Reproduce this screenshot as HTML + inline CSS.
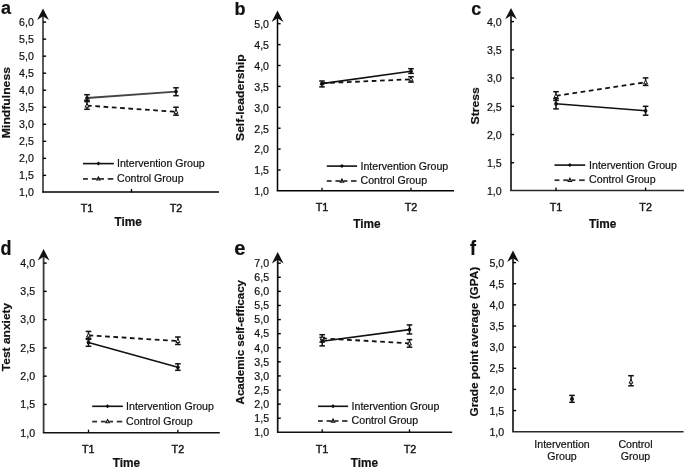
<!DOCTYPE html>
<html><head><meta charset="utf-8"><title>Figure</title>
<style>
html,body{margin:0;padding:0;background:#fff;}
body{width:685px;height:468px;overflow:hidden;}
svg{display:block;filter:grayscale(1) blur(0.35px);}
text{font-family:"Liberation Sans", sans-serif;fill:#111;stroke:#111;stroke-width:0.2px;}
</style></head><body>
<svg width="685" height="468" viewBox="0 0 685 468">
<rect width="685" height="468" fill="#fff"/>
<line x1="43" y1="13.3" x2="43" y2="192.4" stroke="#4a4a4a" stroke-width="1.8"/>
<path d="M43 8.60 L48.90 20.00 L43 16.30 L37.10 20.00 Z" fill="#111"/>
<line x1="42.25" y1="192" x2="219" y2="192" stroke="#000" stroke-width="1.6"/>
<text x="33.8" y="196.20" text-anchor="end" font-size="10.6">1,0</text>
<line x1="43" y1="175.37" x2="46.1" y2="175.37" stroke="#000" stroke-width="1.4"/>
<text x="33.8" y="179.17" text-anchor="end" font-size="10.6">1,5</text>
<line x1="43" y1="158.34" x2="46.1" y2="158.34" stroke="#000" stroke-width="1.4"/>
<text x="33.8" y="162.14" text-anchor="end" font-size="10.6">2,0</text>
<line x1="43" y1="141.31" x2="46.1" y2="141.31" stroke="#000" stroke-width="1.4"/>
<text x="33.8" y="145.11" text-anchor="end" font-size="10.6">2,5</text>
<line x1="43" y1="124.28" x2="46.1" y2="124.28" stroke="#000" stroke-width="1.4"/>
<text x="33.8" y="128.08" text-anchor="end" font-size="10.6">3,0</text>
<line x1="43" y1="107.25" x2="46.1" y2="107.25" stroke="#000" stroke-width="1.4"/>
<text x="33.8" y="111.05" text-anchor="end" font-size="10.6">3,5</text>
<line x1="43" y1="90.22" x2="46.1" y2="90.22" stroke="#000" stroke-width="1.4"/>
<text x="33.8" y="94.02" text-anchor="end" font-size="10.6">4,0</text>
<line x1="43" y1="73.19" x2="46.1" y2="73.19" stroke="#000" stroke-width="1.4"/>
<text x="33.8" y="76.99" text-anchor="end" font-size="10.6">4,5</text>
<line x1="43" y1="56.16" x2="46.1" y2="56.16" stroke="#000" stroke-width="1.4"/>
<text x="33.8" y="59.96" text-anchor="end" font-size="10.6">5,0</text>
<line x1="43" y1="39.13" x2="46.1" y2="39.13" stroke="#000" stroke-width="1.4"/>
<text x="33.8" y="42.93" text-anchor="end" font-size="10.6">5,5</text>
<line x1="43" y1="22.10" x2="46.1" y2="22.10" stroke="#000" stroke-width="1.4"/>
<text x="33.8" y="25.90" text-anchor="end" font-size="10.6">6,0</text>
<line x1="131.5" y1="192.4" x2="131.5" y2="189" stroke="#000" stroke-width="1.3"/>
<text x="87" y="212.3" text-anchor="middle" font-size="10.8" style="stroke-width:0.4px">T1</text>
<text x="176" y="212.3" text-anchor="middle" font-size="10.8" style="stroke-width:0.4px">T2</text>
<text transform="translate(128.2,225.9) scale(1,1.16)" text-anchor="middle" font-size="11.8" font-weight="bold">Time</text>
<text transform="translate(9.9,102.6) rotate(-90) scale(1,0.93)" text-anchor="middle" font-size="12.2" font-weight="bold">Mindfulness</text>
<text transform="translate(1,14.3) scale(1,1.06)" font-size="18" font-weight="bold">a</text>
<path d="M87 98 L176 91.6" fill="none" stroke="#444" stroke-width="1.9"/>
<path d="M87 105.6 L176 111.8" fill="none" stroke="#111" stroke-width="1.8" stroke-dasharray="4.7 3.6"/>
<line x1="87" y1="94.7" x2="87" y2="101.6" stroke="#111" stroke-width="1.5"/>
<line x1="84.2" y1="94.7" x2="89.8" y2="94.7" stroke="#111" stroke-width="1.5"/>
<line x1="84.2" y1="101.6" x2="89.8" y2="101.6" stroke="#111" stroke-width="1.5"/>
<line x1="87" y1="100.2" x2="87" y2="109.3" stroke="#111" stroke-width="1.5"/>
<line x1="84.2" y1="100.2" x2="89.8" y2="100.2" stroke="#111" stroke-width="1.5"/>
<line x1="84.2" y1="109.3" x2="89.8" y2="109.3" stroke="#111" stroke-width="1.5"/>
<line x1="176" y1="87.8" x2="176" y2="95.7" stroke="#111" stroke-width="1.5"/>
<line x1="173.2" y1="87.8" x2="178.8" y2="87.8" stroke="#111" stroke-width="1.5"/>
<line x1="173.2" y1="95.7" x2="178.8" y2="95.7" stroke="#111" stroke-width="1.5"/>
<line x1="176" y1="107.2" x2="176" y2="115.2" stroke="#111" stroke-width="1.5"/>
<line x1="173.2" y1="107.2" x2="178.8" y2="107.2" stroke="#111" stroke-width="1.5"/>
<line x1="173.2" y1="115.2" x2="178.8" y2="115.2" stroke="#111" stroke-width="1.5"/>
<path d="M87 103.55 L88.95 107.14 L85.05 107.14 Z" fill="#fff" stroke="#111" stroke-width="1.0"/>
<path d="M176 109.75 L177.95 113.34 L174.05 113.34 Z" fill="#fff" stroke="#111" stroke-width="1.0"/>
<circle cx="87" cy="98" r="1.85" fill="#111"/>
<circle cx="176" cy="91.6" r="1.85" fill="#111"/>
<line x1="83" y1="163.6" x2="113.9" y2="163.6" stroke="#111" stroke-width="1.6"/>
<path d="M96.35 163.6 L98.45 161.60 L100.55 163.6 L98.45 165.59 Z" fill="#111"/>
<line x1="83.00" y1="178.9" x2="87.91" y2="178.9" stroke="#333" stroke-width="1.8"/>
<line x1="91.81" y1="178.9" x2="96.60" y2="178.9" stroke="#333" stroke-width="1.8"/>
<line x1="100.15" y1="178.9" x2="104.01" y2="178.9" stroke="#333" stroke-width="1.8"/>
<line x1="107.72" y1="178.9" x2="113.30" y2="178.9" stroke="#333" stroke-width="1.8"/>
<path d="M98.45 176.90 L100.16 180.05 L96.74 180.05 Z" fill="#fff" stroke="#111" stroke-width="1.1"/>
<text x="117" y="167.10" font-size="10.6">Intervention Group</text>
<text x="117" y="182.10" font-size="10.6">Control Group</text>
<line x1="277.5" y1="15.3" x2="277.5" y2="190.9" stroke="#000" stroke-width="1.5"/>
<path d="M277.5 10.60 L283.40 22.00 L277.5 18.30 L271.60 22.00 Z" fill="#111"/>
<line x1="276.75" y1="190.8" x2="454" y2="190.8" stroke="#000" stroke-width="1.6"/>
<text x="269.0" y="195.20" text-anchor="end" font-size="10.6">1,0</text>
<line x1="277.5" y1="170.00" x2="280.6" y2="170.00" stroke="#000" stroke-width="1.4"/>
<text x="269.0" y="174.30" text-anchor="end" font-size="10.6">1,5</text>
<line x1="277.5" y1="149.10" x2="280.6" y2="149.10" stroke="#000" stroke-width="1.4"/>
<text x="269.0" y="153.40" text-anchor="end" font-size="10.6">2,0</text>
<line x1="277.5" y1="128.20" x2="280.6" y2="128.20" stroke="#000" stroke-width="1.4"/>
<text x="269.0" y="132.50" text-anchor="end" font-size="10.6">2,5</text>
<line x1="277.5" y1="107.30" x2="280.6" y2="107.30" stroke="#000" stroke-width="1.4"/>
<text x="269.0" y="111.60" text-anchor="end" font-size="10.6">3,0</text>
<line x1="277.5" y1="86.40" x2="280.6" y2="86.40" stroke="#000" stroke-width="1.4"/>
<text x="269.0" y="90.70" text-anchor="end" font-size="10.6">3,5</text>
<line x1="277.5" y1="65.50" x2="280.6" y2="65.50" stroke="#000" stroke-width="1.4"/>
<text x="269.0" y="69.80" text-anchor="end" font-size="10.6">4,0</text>
<line x1="277.5" y1="44.60" x2="280.6" y2="44.60" stroke="#000" stroke-width="1.4"/>
<text x="269.0" y="48.90" text-anchor="end" font-size="10.6">4,5</text>
<line x1="277.5" y1="23.70" x2="280.6" y2="23.70" stroke="#000" stroke-width="1.4"/>
<text x="269.0" y="28.00" text-anchor="end" font-size="10.6">5,0</text>
<line x1="322" y1="190.9" x2="322" y2="187.8" stroke="#000" stroke-width="1.3"/>
<line x1="411" y1="190.9" x2="411" y2="187.8" stroke="#000" stroke-width="1.3"/>
<text x="322" y="210.8" text-anchor="middle" font-size="10.8" style="stroke-width:0.4px">T1</text>
<text x="411" y="210.8" text-anchor="middle" font-size="10.8" style="stroke-width:0.4px">T2</text>
<text transform="translate(367,227.7) scale(1,1.16)" text-anchor="middle" font-size="11.8" font-weight="bold">Time</text>
<text transform="translate(243.9,97.6) rotate(-90) scale(1,0.93)" text-anchor="middle" font-size="12.1" font-weight="bold">Self-leadership</text>
<text transform="translate(234.4,14.6) scale(1,1.05)" font-size="18" font-weight="bold">b</text>
<path d="M322 83.6 L411 71.2" fill="none" stroke="#111" stroke-width="1.6"/>
<path d="M322 83.2 L411 79.3" fill="none" stroke="#111" stroke-width="1.8" stroke-dasharray="4.7 3.6"/>
<line x1="322" y1="81" x2="322" y2="86.9" stroke="#111" stroke-width="1.5"/>
<line x1="319.2" y1="81" x2="324.8" y2="81" stroke="#111" stroke-width="1.5"/>
<line x1="319.2" y1="86.9" x2="324.8" y2="86.9" stroke="#111" stroke-width="1.5"/>
<line x1="411" y1="68.7" x2="411" y2="73.4" stroke="#111" stroke-width="1.5"/>
<line x1="408.2" y1="68.7" x2="413.8" y2="68.7" stroke="#111" stroke-width="1.5"/>
<line x1="408.2" y1="73.4" x2="413.8" y2="73.4" stroke="#111" stroke-width="1.5"/>
<line x1="411" y1="76.8" x2="411" y2="82.1" stroke="#111" stroke-width="1.5"/>
<line x1="408.2" y1="76.8" x2="413.8" y2="76.8" stroke="#111" stroke-width="1.5"/>
<line x1="408.2" y1="82.1" x2="413.8" y2="82.1" stroke="#111" stroke-width="1.5"/>
<path d="M322 81.15 L323.95 84.74 L320.05 84.74 Z" fill="#fff" stroke="#111" stroke-width="1.0"/>
<path d="M411 77.25 L412.95 80.84 L409.05 80.84 Z" fill="#fff" stroke="#111" stroke-width="1.0"/>
<circle cx="322" cy="83.6" r="1.85" fill="#111"/>
<circle cx="411" cy="71.2" r="1.85" fill="#111"/>
<line x1="326.8" y1="166.1" x2="357.1" y2="166.1" stroke="#111" stroke-width="1.6"/>
<path d="M339.85 166.1 L341.95 164.10 L344.05 166.1 L341.95 168.09 Z" fill="#111"/>
<line x1="326.80" y1="181" x2="331.62" y2="181" stroke="#333" stroke-width="1.8"/>
<line x1="335.44" y1="181" x2="340.13" y2="181" stroke="#333" stroke-width="1.8"/>
<line x1="343.62" y1="181" x2="347.40" y2="181" stroke="#333" stroke-width="1.8"/>
<line x1="351.04" y1="181" x2="356.50" y2="181" stroke="#333" stroke-width="1.8"/>
<path d="M341.95 179.00 L343.66 182.15 L340.24 182.15 Z" fill="#fff" stroke="#111" stroke-width="1.1"/>
<text x="360.5" y="169.60" font-size="10.6">Intervention Group</text>
<text x="360.5" y="184.20" font-size="10.6">Control Group</text>
<line x1="511" y1="12.6" x2="511" y2="191.0" stroke="#2a2a2a" stroke-width="1.8"/>
<path d="M511 7.90 L516.90 19.30 L511 15.60 L505.10 19.30 Z" fill="#111"/>
<line x1="510.25" y1="190.5" x2="684" y2="190.5" stroke="#2a2a2a" stroke-width="1.6"/>
<text x="501.7" y="195.20" text-anchor="end" font-size="10.6">1,0</text>
<line x1="511" y1="162.77" x2="514.1" y2="162.77" stroke="#000" stroke-width="1.4"/>
<text x="501.7" y="166.97" text-anchor="end" font-size="10.6">1,5</text>
<line x1="511" y1="134.53" x2="514.1" y2="134.53" stroke="#000" stroke-width="1.4"/>
<text x="501.7" y="138.73" text-anchor="end" font-size="10.6">2,0</text>
<line x1="511" y1="106.30" x2="514.1" y2="106.30" stroke="#000" stroke-width="1.4"/>
<text x="501.7" y="110.50" text-anchor="end" font-size="10.6">2,5</text>
<line x1="511" y1="78.07" x2="514.1" y2="78.07" stroke="#000" stroke-width="1.4"/>
<text x="501.7" y="82.27" text-anchor="end" font-size="10.6">3,0</text>
<line x1="511" y1="49.83" x2="514.1" y2="49.83" stroke="#000" stroke-width="1.4"/>
<text x="501.7" y="54.03" text-anchor="end" font-size="10.6">3,5</text>
<line x1="511" y1="21.60" x2="514.1" y2="21.60" stroke="#000" stroke-width="1.4"/>
<text x="501.7" y="25.80" text-anchor="end" font-size="10.6">4,0</text>
<line x1="556" y1="191.0" x2="556" y2="187.5" stroke="#000" stroke-width="1.3"/>
<line x1="645.6" y1="191.0" x2="645.6" y2="187.5" stroke="#000" stroke-width="1.3"/>
<text x="556" y="210.8" text-anchor="middle" font-size="10.8" style="stroke-width:0.4px">T1</text>
<text x="645.6" y="210.8" text-anchor="middle" font-size="10.8" style="stroke-width:0.4px">T2</text>
<text transform="translate(602.6,227.7) scale(1,1.16)" text-anchor="middle" font-size="11.8" font-weight="bold">Time</text>
<text transform="translate(478.8,105.8) rotate(-90) scale(1,0.93)" text-anchor="middle" font-size="12.2" font-weight="bold">Stress</text>
<text transform="translate(471.2,14.6) scale(1,1.05)" font-size="18" font-weight="bold">c</text>
<path d="M556 103.8 L645.6 110.8" fill="none" stroke="#111" stroke-width="1.6"/>
<path d="M556 95.9 L645.6 82.3" fill="none" stroke="#111" stroke-width="1.8" stroke-dasharray="4.7 3.6"/>
<line x1="556" y1="91.7" x2="556" y2="100.4" stroke="#111" stroke-width="1.5"/>
<line x1="553.2" y1="91.7" x2="558.8" y2="91.7" stroke="#111" stroke-width="1.5"/>
<line x1="553.2" y1="100.4" x2="558.8" y2="100.4" stroke="#111" stroke-width="1.5"/>
<line x1="556" y1="98.6" x2="556" y2="108.9" stroke="#111" stroke-width="1.5"/>
<line x1="553.2" y1="98.6" x2="558.8" y2="98.6" stroke="#111" stroke-width="1.5"/>
<line x1="553.2" y1="108.9" x2="558.8" y2="108.9" stroke="#111" stroke-width="1.5"/>
<line x1="645.6" y1="77.9" x2="645.6" y2="85.4" stroke="#111" stroke-width="1.5"/>
<line x1="642.8" y1="77.9" x2="648.4" y2="77.9" stroke="#111" stroke-width="1.5"/>
<line x1="642.8" y1="85.4" x2="648.4" y2="85.4" stroke="#111" stroke-width="1.5"/>
<line x1="645.6" y1="106.3" x2="645.6" y2="115.2" stroke="#111" stroke-width="1.5"/>
<line x1="642.8" y1="106.3" x2="648.4" y2="106.3" stroke="#111" stroke-width="1.5"/>
<line x1="642.8" y1="115.2" x2="648.4" y2="115.2" stroke="#111" stroke-width="1.5"/>
<path d="M556 93.85 L557.95 97.44 L554.05 97.44 Z" fill="#fff" stroke="#111" stroke-width="1.0"/>
<path d="M645.6 80.25 L647.55 83.84 L643.65 83.84 Z" fill="#fff" stroke="#111" stroke-width="1.0"/>
<circle cx="556" cy="103.8" r="1.85" fill="#111"/>
<circle cx="645.6" cy="110.8" r="1.85" fill="#111"/>
<line x1="554.5" y1="165.1" x2="585.3" y2="165.1" stroke="#111" stroke-width="1.6"/>
<path d="M567.80 165.1 L569.90 163.10 L572.00 165.1 L569.90 167.09 Z" fill="#111"/>
<line x1="554.50" y1="180.2" x2="559.40" y2="180.2" stroke="#333" stroke-width="1.8"/>
<line x1="563.28" y1="180.2" x2="568.05" y2="180.2" stroke="#333" stroke-width="1.8"/>
<line x1="571.59" y1="180.2" x2="575.44" y2="180.2" stroke="#333" stroke-width="1.8"/>
<line x1="579.14" y1="180.2" x2="584.70" y2="180.2" stroke="#333" stroke-width="1.8"/>
<path d="M569.9 178.20 L571.61 181.35 L568.19 181.35 Z" fill="#fff" stroke="#111" stroke-width="1.1"/>
<text x="589.1" y="168.60" font-size="10.6">Intervention Group</text>
<text x="589.1" y="183.40" font-size="10.6">Control Group</text>
<line x1="43.6" y1="253.8" x2="43.6" y2="432.7" stroke="#3a3a3a" stroke-width="1.8"/>
<path d="M43.6 249.10 L49.50 260.50 L43.6 256.80 L37.70 260.50 Z" fill="#111"/>
<line x1="42.85" y1="432.7" x2="219.8" y2="432.7" stroke="#111" stroke-width="1.6"/>
<text x="35.1" y="436.50" text-anchor="end" font-size="10.6">1,0</text>
<line x1="43.6" y1="404.43" x2="46.7" y2="404.43" stroke="#000" stroke-width="1.4"/>
<text x="35.1" y="408.23" text-anchor="end" font-size="10.6">1,5</text>
<line x1="43.6" y1="376.17" x2="46.7" y2="376.17" stroke="#000" stroke-width="1.4"/>
<text x="35.1" y="379.97" text-anchor="end" font-size="10.6">2,0</text>
<line x1="43.6" y1="347.90" x2="46.7" y2="347.90" stroke="#000" stroke-width="1.4"/>
<text x="35.1" y="351.70" text-anchor="end" font-size="10.6">2,5</text>
<line x1="43.6" y1="319.63" x2="46.7" y2="319.63" stroke="#000" stroke-width="1.4"/>
<text x="35.1" y="323.43" text-anchor="end" font-size="10.6">3,0</text>
<line x1="43.6" y1="291.37" x2="46.7" y2="291.37" stroke="#000" stroke-width="1.4"/>
<text x="35.1" y="295.17" text-anchor="end" font-size="10.6">3,5</text>
<line x1="43.6" y1="263.10" x2="46.7" y2="263.10" stroke="#000" stroke-width="1.4"/>
<text x="35.1" y="266.90" text-anchor="end" font-size="10.6">4,0</text>
<line x1="88.5" y1="432.7" x2="88.5" y2="429.7" stroke="#000" stroke-width="1.3"/>
<line x1="177.9" y1="432.7" x2="177.9" y2="429.7" stroke="#000" stroke-width="1.3"/>
<text x="88.3" y="453.4" text-anchor="middle" font-size="10.8" style="stroke-width:0.4px">T1</text>
<text x="177.9" y="453.4" text-anchor="middle" font-size="10.8" style="stroke-width:0.4px">T2</text>
<text transform="translate(126.5,467.3) scale(1,1.16)" text-anchor="middle" font-size="11.8" font-weight="bold">Time</text>
<text transform="translate(9.6,337) rotate(-90) scale(1,0.93)" text-anchor="middle" font-size="12.0" font-weight="bold">Test anxiety</text>
<text transform="translate(0.5,255.1) scale(1,1.12)" font-size="18" font-weight="bold">d</text>
<path d="M88.5 342.4 L177.9 367.3" fill="none" stroke="#111" stroke-width="1.6"/>
<path d="M88.5 335.4 L177.9 341" fill="none" stroke="#111" stroke-width="1.8" stroke-dasharray="4.7 3.6"/>
<line x1="88.5" y1="331.4" x2="88.5" y2="339.4" stroke="#111" stroke-width="1.5"/>
<line x1="85.7" y1="331.4" x2="91.3" y2="331.4" stroke="#111" stroke-width="1.5"/>
<line x1="85.7" y1="339.4" x2="91.3" y2="339.4" stroke="#111" stroke-width="1.5"/>
<line x1="88.5" y1="338.4" x2="88.5" y2="346.3" stroke="#111" stroke-width="1.5"/>
<line x1="85.7" y1="338.4" x2="91.3" y2="338.4" stroke="#111" stroke-width="1.5"/>
<line x1="85.7" y1="346.3" x2="91.3" y2="346.3" stroke="#111" stroke-width="1.5"/>
<line x1="177.9" y1="337" x2="177.9" y2="344.5" stroke="#111" stroke-width="1.5"/>
<line x1="175.1" y1="337" x2="180.7" y2="337" stroke="#111" stroke-width="1.5"/>
<line x1="175.1" y1="344.5" x2="180.7" y2="344.5" stroke="#111" stroke-width="1.5"/>
<line x1="177.9" y1="363.8" x2="177.9" y2="370.3" stroke="#111" stroke-width="1.5"/>
<line x1="175.1" y1="363.8" x2="180.7" y2="363.8" stroke="#111" stroke-width="1.5"/>
<line x1="175.1" y1="370.3" x2="180.7" y2="370.3" stroke="#111" stroke-width="1.5"/>
<path d="M88.5 333.35 L90.45 336.94 L86.55 336.94 Z" fill="#fff" stroke="#111" stroke-width="1.0"/>
<path d="M177.9 338.95 L179.85 342.54 L175.95 342.54 Z" fill="#fff" stroke="#111" stroke-width="1.0"/>
<circle cx="88.5" cy="342.4" r="1.85" fill="#111"/>
<circle cx="177.9" cy="367.3" r="1.85" fill="#111"/>
<line x1="92.2" y1="406.3" x2="122.9" y2="406.3" stroke="#111" stroke-width="1.6"/>
<path d="M105.45 406.3 L107.55 404.31 L109.65 406.3 L107.55 408.30 Z" fill="#111"/>
<line x1="92.20" y1="421.6" x2="97.08" y2="421.6" stroke="#333" stroke-width="1.8"/>
<line x1="100.95" y1="421.6" x2="105.71" y2="421.6" stroke="#333" stroke-width="1.8"/>
<line x1="109.24" y1="421.6" x2="113.08" y2="421.6" stroke="#333" stroke-width="1.8"/>
<line x1="116.76" y1="421.6" x2="122.30" y2="421.6" stroke="#333" stroke-width="1.8"/>
<path d="M107.55 419.60 L109.26 422.75 L105.84 422.75 Z" fill="#fff" stroke="#111" stroke-width="1.1"/>
<text x="126.1" y="409.80" font-size="10.6">Intervention Group</text>
<text x="126.1" y="424.80" font-size="10.6">Control Group</text>
<line x1="277.7" y1="256.8" x2="277.7" y2="432.3" stroke="#111" stroke-width="1.7"/>
<path d="M277.7 252.10 L283.60 263.50 L277.7 259.80 L271.80 263.50 Z" fill="#111"/>
<line x1="276.95" y1="432.3" x2="452.2" y2="432.3" stroke="#111" stroke-width="1.6"/>
<text x="269.1" y="436.10" text-anchor="end" font-size="10.6">1,0</text>
<line x1="277.7" y1="418.21" x2="280.8" y2="418.21" stroke="#000" stroke-width="1.4"/>
<text x="269.1" y="422.01" text-anchor="end" font-size="10.6">1,5</text>
<line x1="277.7" y1="404.12" x2="280.8" y2="404.12" stroke="#000" stroke-width="1.4"/>
<text x="269.1" y="407.92" text-anchor="end" font-size="10.6">2,0</text>
<line x1="277.7" y1="390.02" x2="280.8" y2="390.02" stroke="#000" stroke-width="1.4"/>
<text x="269.1" y="393.82" text-anchor="end" font-size="10.6">2,5</text>
<line x1="277.7" y1="375.93" x2="280.8" y2="375.93" stroke="#000" stroke-width="1.4"/>
<text x="269.1" y="379.73" text-anchor="end" font-size="10.6">3,0</text>
<line x1="277.7" y1="361.84" x2="280.8" y2="361.84" stroke="#000" stroke-width="1.4"/>
<text x="269.1" y="365.64" text-anchor="end" font-size="10.6">3,5</text>
<line x1="277.7" y1="347.75" x2="280.8" y2="347.75" stroke="#000" stroke-width="1.4"/>
<text x="269.1" y="351.55" text-anchor="end" font-size="10.6">4,0</text>
<line x1="277.7" y1="333.66" x2="280.8" y2="333.66" stroke="#000" stroke-width="1.4"/>
<text x="269.1" y="337.46" text-anchor="end" font-size="10.6">4,5</text>
<line x1="277.7" y1="319.57" x2="280.8" y2="319.57" stroke="#000" stroke-width="1.4"/>
<text x="269.1" y="323.37" text-anchor="end" font-size="10.6">5,0</text>
<line x1="277.7" y1="305.48" x2="280.8" y2="305.48" stroke="#000" stroke-width="1.4"/>
<text x="269.1" y="309.28" text-anchor="end" font-size="10.6">5,5</text>
<line x1="277.7" y1="291.38" x2="280.8" y2="291.38" stroke="#000" stroke-width="1.4"/>
<text x="269.1" y="295.18" text-anchor="end" font-size="10.6">6,0</text>
<line x1="277.7" y1="277.29" x2="280.8" y2="277.29" stroke="#000" stroke-width="1.4"/>
<text x="269.1" y="281.09" text-anchor="end" font-size="10.6">6,5</text>
<line x1="277.7" y1="263.20" x2="280.8" y2="263.20" stroke="#000" stroke-width="1.4"/>
<text x="269.1" y="267.00" text-anchor="end" font-size="10.6">7,0</text>
<line x1="322.2" y1="432.3" x2="322.2" y2="429.3" stroke="#000" stroke-width="1.3"/>
<line x1="409.5" y1="432.3" x2="409.5" y2="429.3" stroke="#000" stroke-width="1.3"/>
<text x="322" y="453.4" text-anchor="middle" font-size="10.8" style="stroke-width:0.4px">T1</text>
<text x="410" y="453.4" text-anchor="middle" font-size="10.8" style="stroke-width:0.4px">T2</text>
<text transform="translate(364.3,467.3) scale(1,1.16)" text-anchor="middle" font-size="11.8" font-weight="bold">Time</text>
<text transform="translate(244.1,342.2) rotate(-90) scale(1,0.93)" text-anchor="middle" font-size="11.55" font-weight="bold">Academic self-efficacy</text>
<text transform="translate(234.3,255.1) scale(1,1.0)" font-size="20.2" font-weight="bold">e</text>
<path d="M322.2 341.2 L409.5 329.6" fill="none" stroke="#111" stroke-width="1.6"/>
<path d="M322.2 338.3 L409.5 343.4" fill="none" stroke="#111" stroke-width="1.8" stroke-dasharray="4.7 3.6"/>
<line x1="322.2" y1="334.7" x2="322.2" y2="342" stroke="#111" stroke-width="1.5"/>
<line x1="319.4" y1="334.7" x2="325.0" y2="334.7" stroke="#111" stroke-width="1.5"/>
<line x1="319.4" y1="342" x2="325.0" y2="342" stroke="#111" stroke-width="1.5"/>
<line x1="322.2" y1="337.4" x2="322.2" y2="345.9" stroke="#111" stroke-width="1.5"/>
<line x1="319.4" y1="337.4" x2="325.0" y2="337.4" stroke="#111" stroke-width="1.5"/>
<line x1="319.4" y1="345.9" x2="325.0" y2="345.9" stroke="#111" stroke-width="1.5"/>
<line x1="409.5" y1="324.9" x2="409.5" y2="334" stroke="#111" stroke-width="1.5"/>
<line x1="406.7" y1="324.9" x2="412.3" y2="324.9" stroke="#111" stroke-width="1.5"/>
<line x1="406.7" y1="334" x2="412.3" y2="334" stroke="#111" stroke-width="1.5"/>
<line x1="409.5" y1="339.6" x2="409.5" y2="347.2" stroke="#111" stroke-width="1.5"/>
<line x1="406.7" y1="339.6" x2="412.3" y2="339.6" stroke="#111" stroke-width="1.5"/>
<line x1="406.7" y1="347.2" x2="412.3" y2="347.2" stroke="#111" stroke-width="1.5"/>
<path d="M322.2 336.25 L324.15 339.84 L320.25 339.84 Z" fill="#fff" stroke="#111" stroke-width="1.0"/>
<path d="M409.5 341.35 L411.45 344.94 L407.55 344.94 Z" fill="#fff" stroke="#111" stroke-width="1.0"/>
<circle cx="322.2" cy="341.2" r="1.85" fill="#111"/>
<circle cx="409.5" cy="329.6" r="1.85" fill="#111"/>
<line x1="318" y1="406.3" x2="348.1" y2="406.3" stroke="#111" stroke-width="1.6"/>
<path d="M330.95 406.3 L333.05 404.31 L335.15 406.3 L333.05 408.30 Z" fill="#111"/>
<line x1="318.00" y1="421" x2="322.79" y2="421" stroke="#333" stroke-width="1.8"/>
<line x1="326.58" y1="421" x2="331.24" y2="421" stroke="#333" stroke-width="1.8"/>
<line x1="334.71" y1="421" x2="338.47" y2="421" stroke="#333" stroke-width="1.8"/>
<line x1="342.08" y1="421" x2="347.50" y2="421" stroke="#333" stroke-width="1.8"/>
<path d="M333.05 419.00 L334.76 422.15 L331.34 422.15 Z" fill="#fff" stroke="#111" stroke-width="1.1"/>
<text x="351.6" y="409.80" font-size="10.6">Intervention Group</text>
<text x="351.6" y="424.20" font-size="10.6">Control Group</text>
<line x1="513.0" y1="255.2" x2="513.0" y2="431.7" stroke="#2a2a2a" stroke-width="1.8"/>
<path d="M513.0 250.50 L518.90 261.90 L513.0 258.20 L507.10 261.90 Z" fill="#111"/>
<line x1="512.25" y1="431.7" x2="683.6" y2="431.7" stroke="#2a2a2a" stroke-width="1.6"/>
<text x="504.2" y="435.80" text-anchor="end" font-size="10.6">1,0</text>
<line x1="513.0" y1="410.56" x2="516.1" y2="410.56" stroke="#000" stroke-width="1.4"/>
<text x="504.2" y="414.66" text-anchor="end" font-size="10.6">1,5</text>
<line x1="513.0" y1="389.43" x2="516.1" y2="389.43" stroke="#000" stroke-width="1.4"/>
<text x="504.2" y="393.53" text-anchor="end" font-size="10.6">2,0</text>
<line x1="513.0" y1="368.29" x2="516.1" y2="368.29" stroke="#000" stroke-width="1.4"/>
<text x="504.2" y="372.39" text-anchor="end" font-size="10.6">2,5</text>
<line x1="513.0" y1="347.15" x2="516.1" y2="347.15" stroke="#000" stroke-width="1.4"/>
<text x="504.2" y="351.25" text-anchor="end" font-size="10.6">3,0</text>
<line x1="513.0" y1="326.01" x2="516.1" y2="326.01" stroke="#000" stroke-width="1.4"/>
<text x="504.2" y="330.11" text-anchor="end" font-size="10.6">3,5</text>
<line x1="513.0" y1="304.88" x2="516.1" y2="304.88" stroke="#000" stroke-width="1.4"/>
<text x="504.2" y="308.98" text-anchor="end" font-size="10.6">4,0</text>
<line x1="513.0" y1="283.74" x2="516.1" y2="283.74" stroke="#000" stroke-width="1.4"/>
<text x="504.2" y="287.84" text-anchor="end" font-size="10.6">4,5</text>
<line x1="513.0" y1="262.60" x2="516.1" y2="262.60" stroke="#000" stroke-width="1.4"/>
<text x="504.2" y="266.70" text-anchor="end" font-size="10.6">5,0</text>
<text x="562" y="447.8" text-anchor="middle" font-size="10.6">Intervention</text>
<text x="562" y="460.3" text-anchor="middle" font-size="10.6">Group</text>
<text x="635.5" y="447.8" text-anchor="middle" font-size="10.6">Control</text>
<text x="635.5" y="460.3" text-anchor="middle" font-size="10.6">Group</text>
<text transform="translate(477.7,341.7) rotate(-90) scale(1,0.93)" text-anchor="middle" font-size="11.8" font-weight="bold">Grade point average (GPA)</text>
<text transform="translate(470.1,254.8) scale(1,1.12)" font-size="18" font-weight="bold">f</text>
<line x1="572" y1="395.4" x2="572" y2="402.3" stroke="#111" stroke-width="1.5"/>
<line x1="569.2" y1="395.4" x2="574.8" y2="395.4" stroke="#111" stroke-width="1.5"/>
<line x1="569.2" y1="402.3" x2="574.8" y2="402.3" stroke="#111" stroke-width="1.5"/>
<circle cx="572" cy="399" r="2" fill="#111"/>
<line x1="631" y1="375.7" x2="631" y2="385.8" stroke="#111" stroke-width="1.5"/>
<line x1="628.2" y1="375.7" x2="633.8" y2="375.7" stroke="#111" stroke-width="1.5"/>
<line x1="628.2" y1="385.8" x2="633.8" y2="385.8" stroke="#111" stroke-width="1.5"/>
<path d="M631 379.55 L632.95 383.14 L629.05 383.14 Z" fill="#fff" stroke="#111" stroke-width="1.0"/>
</svg>
</body></html>
